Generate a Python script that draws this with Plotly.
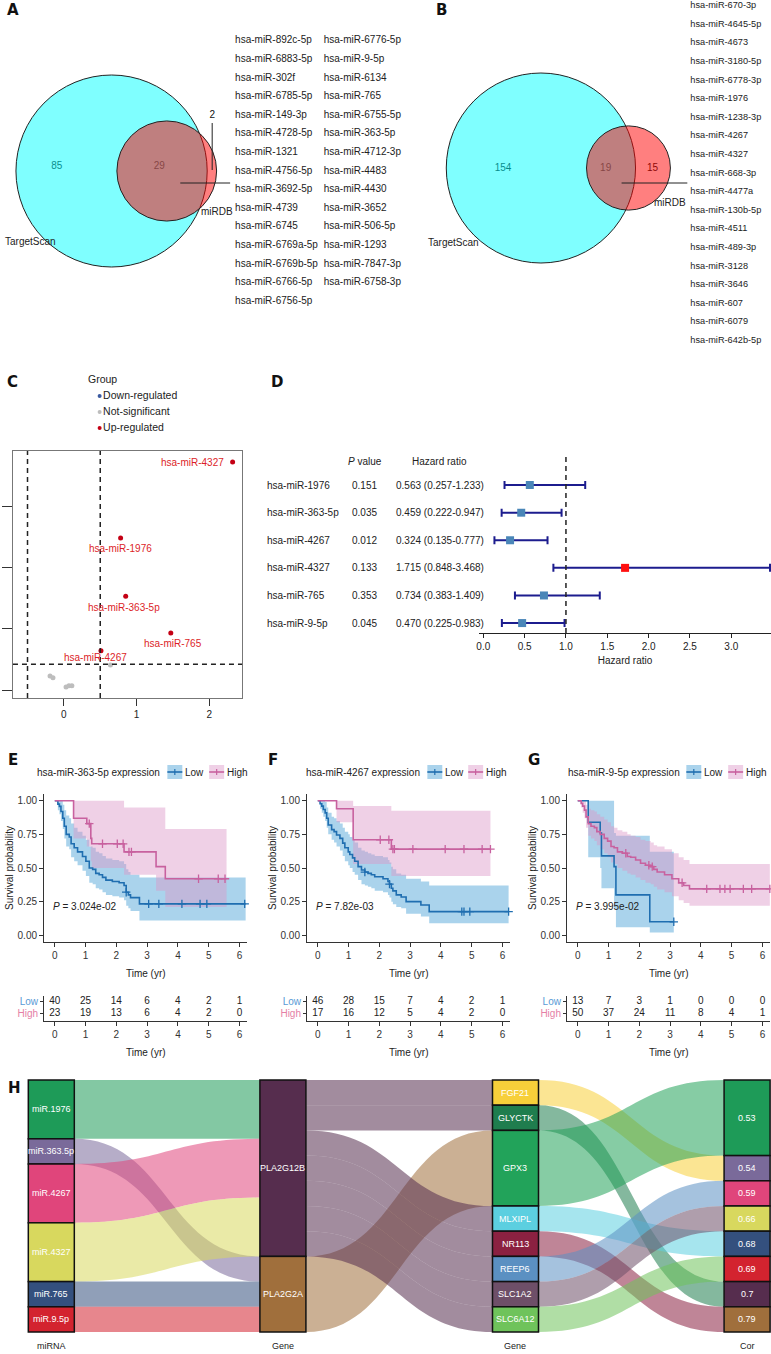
import numpy as np
import plotly.graph_objects as go

W, H = 771, 1354
FONT = "Liberation Sans"
BOLD = "DejaVu Sans"


def px(x):
    return x / W


def py(y):
    return 1 - y / H


# ==============================
# A / B : Venn counts + overlap lists
# ==============================
venn_sets = ["TargetScan", "miRDB"]
venn_a = [85, 29, 2]      # TargetScan only, both, miRDB only
venn_b = [154, 19, 15]

mirs_a_col1 = ["hsa-miR-892c-5p", "hsa-miR-6883-5p", "hsa-miR-302f", "hsa-miR-6785-5p", "hsa-miR-149-3p",
               "hsa-miR-4728-5p", "hsa-miR-1321", "hsa-miR-4756-5p", "hsa-miR-3692-5p", "hsa-miR-4739",
               "hsa-miR-6745", "hsa-miR-6769a-5p", "hsa-miR-6769b-5p", "hsa-miR-6766-5p", "hsa-miR-6756-5p"]
mirs_a_col2 = ["hsa-miR-6776-5p", "hsa-miR-9-5p", "hsa-miR-6134", "hsa-miR-765", "hsa-miR-6755-5p",
               "hsa-miR-363-5p", "hsa-miR-4712-3p", "hsa-miR-4483", "hsa-miR-4430", "hsa-miR-3652",
               "hsa-miR-506-5p", "hsa-miR-1293", "hsa-miR-7847-3p", "hsa-miR-6758-3p"]
mirs_b = ["hsa-miR-670-3p", "hsa-miR-4645-5p", "hsa-miR-4673", "hsa-miR-3180-5p", "hsa-miR-6778-3p",
          "hsa-miR-1976", "hsa-miR-1238-3p", "hsa-miR-4267", "hsa-miR-4327", "hsa-miR-668-3p",
          "hsa-miR-4477a", "hsa-miR-130b-5p", "hsa-miR-4511", "hsa-miR-489-3p", "hsa-miR-3128",
          "hsa-miR-3646", "hsa-miR-607", "hsa-miR-6079", "hsa-miR-642b-5p"]

# ==============================
# C : volcano
# ==============================
group_names = ["Down-regulated", "Not-significant", "Up-regulated"]
up_names = ["hsa-miR-4327", "hsa-miR-1976", "hsa-miR-363-5p", "hsa-miR-765", "hsa-miR-4267"]
up_fc = [2.32, 0.78, 0.85, 1.47, 0.51]
up_y = [4.72, 3.48, 2.53, 1.93, 1.64]
down_names = ["hsa-miR-9-5p"]
down_fc = [-0.75]
down_y = [2.83]
ns_fc = [-0.19, -0.15, 0.03, 0.07, 0.11, 0.64]
ns_y = [1.23, 1.20, 1.05, 1.07, 1.07, 1.41]
fc_cut = 0.5
y_cut = 1.42

# ==============================
# D : forest
# ==============================
forest_names = ["hsa-miR-1976", "hsa-miR-363-5p", "hsa-miR-4267", "hsa-miR-4327", "hsa-miR-765", "hsa-miR-9-5p"]
forest_p = ["0.151", "0.035", "0.012", "0.133", "0.353", "0.045"]
forest_hr = [0.563, 0.459, 0.324, 1.715, 0.734, 0.470]
forest_lo = [0.257, 0.222, 0.135, 0.848, 0.383, 0.225]
forest_hi = [1.233, 0.947, 0.777, 3.468, 1.409, 0.983]

# ==============================
# E / F / G : Kaplan-Meier
# ==============================
years = [0, 1, 2, 3, 4, 5, 6]

e_low_t = [0, .10, .15, .20, .26, .31, .37, .47, .53, .63, .74, .90, 1.01, 1.12, 1.23, 1.33, 1.44, 1.55, 1.66,
           1.87, 2.09, 2.25, 2.32, 2.39, 2.46, 2.75]
e_low_s = [1, .975, .958, .92, .87, .81, .75, .73, .68, .65, .62, .585, .55, .50, .49, .46, .45, .43, .41,
           .40, .39, .37, .32, .30, .28, .233]
e_low_lo = [1, .93, .90, .85, .79, .72, .66, .64, .58, .55, .52, .48, .44, .39, .38, .35, .34, .32, .30,
            .29, .28, .26, .22, .20, .18, .11]
e_low_hi = [1, 1, 1, 1, .97, .93, .89, .87, .83, .80, .77, .74, .71, .66, .65, .62, .61, .59, .57,
            .56, .55, .53, .49, .47, .45, .43]
e_low_cens = [2.32, 3.05, 3.38, 4.13, 4.72, 4.94, 6.17]
e_low_end = 6.2
e_high_t = [0, .61, 1.04, 1.17, 1.20, 2.25, 3.29, 3.59]
e_high_s = [1, .87, .83, .72, .68, .62, .51, .42]
e_high_lo = [1, .72, .66, .55, .50, .45, .33, .21]
e_high_hi = [1, 1, 1, 1, 1, .95, .95, .79]
e_high_cens = [1.12, 1.55, 2.03, 2.22, 2.41, 2.49, 4.67, 5.31, 5.53]
e_high_end = 5.58
e_risk_low = [40, 25, 14, 6, 4, 2, 1]
e_risk_high = [23, 19, 13, 6, 4, 2, 0]

f_low_t = [0, .075, .13, .18, .24, .29, .34, .45, .53, .61, .72, .81, .88, .99, 1.04, 1.13, 1.20, 1.31, 1.42,
           1.53, 1.63, 1.74, 1.85, 2.12, 2.28, 2.33, 2.39, 2.44, 2.55, 2.71, 2.87, 3.35, 3.62]
f_low_s = [1, .978, .96, .935, .91, .87, .82, .785, .77, .745, .72, .685, .65, .62, .60, .575, .55, .51, .485,
           .47, .46, .45, .435, .42, .40, .38, .35, .33, .30, .285, .25, .225, .176]
f_low_lo = [1, .94, .91, .88, .85, .80, .75, .71, .69, .66, .63, .59, .55, .52, .50, .47, .45, .41, .38,
            .37, .36, .35, .33, .32, .30, .28, .25, .23, .21, .20, .16, .14, .09]
f_low_hi = [1, 1, 1, 1, .99, .95, .91, .88, .87, .85, .83, .80, .77, .75, .73, .71, .69, .65, .63,
            .62, .61, .60, .59, .58, .56, .54, .51, .49, .46, .45, .42, .40, .37]
f_low_cens = [1.53, 2.33, 4.68, 4.75, 4.94, 6.2]
f_low_end = 6.2
f_high_t = [0, .61, 1.15, 2.39]
f_high_s = [1, .94, .71, .64]
f_high_lo = [1, .84, .53, .44]
f_high_hi = [1, 1, .96, .925]
f_high_cens = [2.03, 2.31, 2.44, 2.49, 3.09, 4.14, 4.75, 5.34, 5.61]
f_high_end = 5.61
f_risk_low = [46, 28, 15, 7, 4, 2, 1]
f_risk_high = [17, 16, 12, 5, 4, 2, 0]

g_low_t = [0, .34, .73, .77, 1.18, 1.24, 2.34]
g_low_s = [1, .84, .76, .59, .51, .30, .10]
g_low_lo = [1, .58, .50, .35, .20, .06, .02]
g_low_hi = [1, 1, 1, 1, .76, .74, .62]
g_low_cens = [3.12]
g_low_end = 3.12
g_high_t = [0, .11, .16, .22, .27, .34, .43, .54, .62, .73, .86, .97, 1.08, 1.18, 1.29, 1.45, 1.61, 1.72,
            1.88, 2.04, 2.20, 2.37, 2.47, 2.58, 2.82, 3.06, 3.28, 3.44, 3.63]
g_high_s = [1, .98, .96, .93, .88, .83, .81, .80, .77, .75, .72, .70, .66, .65, .62, .61, .585, .58,
            .56, .535, .52, .51, .49, .47, .45, .42, .39, .37, .345]
g_high_lo = [1, .95, .91, .87, .80, .74, .72, .70, .67, .64, .61, .58, .54, .53, .50, .48, .46, .45,
             .43, .41, .39, .38, .36, .34, .32, .29, .26, .24, .22]
g_high_hi = [1, 1, 1, 1, .97, .94, .93, .92, .90, .88, .86, .84, .81, .80, .78, .77, .75, .74,
             .73, .71, .70, .69, .67, .66, .64, .61, .58, .56, .53]
g_high_cens = [1.56, 2.31, 2.42, 3.39, 4.19, 4.62, 4.78, 4.95, 5.38, 5.65, 6.24]
g_high_end = 6.24
g_risk_low = [13, 7, 3, 1, 0, 0, 0]
g_risk_high = [50, 37, 24, 11, 8, 4, 1]

# ==============================
# H : sankey
# ==============================
sankey_nodes = ["miR.1976", "miR.363.5p", "miR.4267", "miR.4327", "miR.765", "miR.9.5p",
                "PLA2G12B", "PLA2G2A",
                "FGF21", "GLYCTK", "GPX3", "MLXIPL", "NR113", "REEP6", "SLC1A2", "SLC6A12",
                "0.53", "0.54", "0.59", "0.66", "0.68", "0.69", "0.7", "0.79"]
sankey_stage = [0] * 6 + [1] * 2 + [2] * 8 + [3] * 8
sankey_titles = ["miRNA", "Gene", "Gene", "Cor"]
link_source = ["miR.1976", "miR.363.5p", "miR.4267", "miR.4327", "miR.765", "miR.9.5p",
               "PLA2G12B", "PLA2G12B", "PLA2G2A", "PLA2G12B", "PLA2G12B", "PLA2G12B", "PLA2G12B", "PLA2G12B",
               "FGF21", "GLYCTK", "GPX3", "MLXIPL", "NR113", "REEP6", "SLC1A2", "SLC6A12"]
link_target = ["PLA2G12B", "PLA2G2A", "PLA2G12B", "PLA2G12B", "PLA2G2A", "PLA2G2A",
               "FGF21", "GLYCTK", "GPX3", "MLXIPL", "NR113", "REEP6", "SLC1A2", "SLC6A12",
               "0.54", "0.7", "0.53", "0.68", "0.79", "0.59", "0.66", "0.69"]
link_value = [7, 3, 7, 7, 3, 3,
              3, 3, 9, 3, 3, 3, 3, 3,
              3, 3, 9, 3, 3, 3, 3, 3]

# colours (style)
node_colors = ["#1e9b58", "#7a6a9a", "#e0457b", "#d8d85e", "#34507e", "#d3232f",
               "#562d4e", "#a06f3c",
               "#f7cf3a", "#1f7d4e", "#22a35a", "#5ccfe0", "#8b2141", "#5b90c2", "#6e4f68", "#6fc35b",
               "#1e9b58", "#7a6a9a", "#e0457b", "#d8d85e", "#34507e", "#d3232f", "#562d4e", "#a06f3c"]
group_colors = ["#3b5aa0", "#bdbdbd", "#c40014"]
LOW_LINE, HIGH_LINE = "#1f6eb0", "#c8619f"
LOW_BAND, HIGH_BAND = "rgba(100,175,220,0.55)", "rgba(220,150,200,0.45)"

fig = go.Figure()
lay = {}
ann = []
shp = []


def axname(n):
    return ("x", "y") if n == 1 else (f"x{n}", f"y{n}")


def axkey(n):
    return ("xaxis", "yaxis") if n == 1 else (f"xaxis{n}", f"yaxis{n}")


def label(x, y, s, size=10, color="#222", xanchor="center", yanchor="middle", family=FONT, **kw):
    ann.append(dict(x=x, y=y, text=s, showarrow=False, xanchor=xanchor, yanchor=yanchor,
                    xref=kw.pop("xref", "paper"), yref=kw.pop("yref", "paper"),
                    font=dict(family=family, size=size, color=color), **kw))


def hline(x0, x1, y, color="#222", width=1):
    shp.append(dict(type="line", xref="paper", yref="paper", x0=px(x0), x1=px(x1), y0=py(y), y1=py(y),
                    line=dict(color=color, width=width)))


# panel letters
for letter, (lx, ly) in zip("ABCDEFGH", [(2, 10), (433, 10), (2, 382), (267, 382),
                                          (3, 760), (264, 760), (525, 760), (3, 1088)]):
    label(px(lx), py(ly), f"<b>{letter}</b>", size=15, color="#111", xanchor="left", family=BOLD)


# ==============================
# Venn diagrams
# ==============================
def lens_area(d, r1, r2):
    if d >= r1 + r2:
        return 0.0
    if d <= abs(r1 - r2):
        return np.pi * min(r1, r2) ** 2
    a1 = r1 ** 2 * np.arccos((d * d + r1 * r1 - r2 * r2) / (2 * d * r1))
    a2 = r2 ** 2 * np.arccos((d * d + r2 * r2 - r1 * r1) / (2 * d * r2))
    a3 = 0.5 * np.sqrt((-d + r1 + r2) * (d + r1 - r2) * (d - r1 + r2) * (d + r1 + r2))
    return a1 + a2 - a3


def venn_layout(counts):
    left, both, right = counts
    r1 = np.sqrt((left + both) / np.pi)
    r2 = np.sqrt((right + both) / np.pi)
    lo, hi = abs(r1 - r2), r1 + r2
    for _ in range(80):
        mid = (lo + hi) / 2
        if lens_area(mid, r1, r2) > both:
            lo = mid
        else:
            hi = mid
    return r1, r2, (lo + hi) / 2


venn_specs = [
    (1, venn_a, (109, 171), 96, (0, 232), (50, 285), [(54, 166), (157, 166), (210, 115)]),
    (2, venn_b, (540, 168), 95, (390, 688), (50, 285), [(502, 168), (605, 168), (652, 168)]),
]
for n, counts, (cx, cy), rpx, (x0, x1), (y0, y1), lab_px in venn_specs:
    r1, r2, d = venn_layout(counts)
    k = rpx / r1
    xa, ya = axname(n)
    xk, yk = axkey(n)
    lay[xk] = dict(domain=[px(x0), px(x1)], range=[(x0 - cx) / k, (x1 - cx) / k], visible=False, anchor=ya)
    lay[yk] = dict(domain=[py(y1), py(y0)], range=[(cy - y1) / k, (cy - y0) / k], visible=False, anchor=xa)
    shp.append(dict(type="circle", xref=xa, yref=ya, x0=-r1, x1=r1, y0=-r1, y1=r1,
                    fillcolor="rgba(0,255,255,0.5)", line=dict(color="#222", width=1)))
    shp.append(dict(type="circle", xref=xa, yref=ya, x0=d - r2, x1=d + r2, y0=-r2, y1=r2,
                    fillcolor="rgba(255,0,0,0.5)", line=dict(color="#222", width=1)))
    fig.add_trace(go.Scatter(x=[(lx - cx) / k for lx, _ in lab_px], y=[(cy - ly) / k for _, ly in lab_px],
                             text=[str(c) for c in counts], mode="text", xaxis=xa, yaxis=ya,
                             textfont=dict(family=FONT, size=10, color="#111"),
                             showlegend=False, hoverinfo="skip", cliponaxis=False))

label(px(0), py(241), venn_sets[0], xanchor="left", size=10)
label(px(215), py(212), venn_sets[1], size=10)
label(px(452), py(242), venn_sets[0], size=10)
label(px(670), py(203), venn_sets[1], size=10)
shp.append(dict(type="line", xref="paper", yref="paper", x0=px(210), x1=px(210), y0=py(123), y1=py(170),
                line=dict(color="#222", width=1)))
hline(178, 228, 183)
hline(621, 687, 183)

# overlap lists
lay["xaxis3"] = dict(domain=[px(233), px(397)], range=[0, 164 / 89], visible=False, anchor="y3")
lay["yaxis3"] = dict(domain=[py(31.7 + 15 * 18.6), py(31.7)], range=[14.5, -0.5], visible=False, anchor="x3")
for col, names in enumerate([mirs_a_col1, mirs_a_col2]):
    fig.add_trace(go.Scatter(x=[col] * len(names), y=list(range(len(names))), text=names, mode="text",
                             textposition="middle right", xaxis="x3", yaxis="y3",
                             textfont=dict(family=FONT, size=10, color="#222"),
                             showlegend=False, hoverinfo="skip", cliponaxis=False))
lay["xaxis4"] = dict(domain=[px(690), 1], range=[0, 1], visible=False, anchor="y4")
lay["yaxis4"] = dict(domain=[py(6 + 18.5 * 18.6), 1], range=[18.5, -6 / 18.6], visible=False, anchor="x4")
fig.add_trace(go.Scatter(x=[0] * len(mirs_b), y=list(range(len(mirs_b))), text=mirs_b, mode="text",
                         textposition="middle right", xaxis="x4", yaxis="y4",
                         textfont=dict(family=FONT, size=9.2, color="#222"),
                         showlegend=False, hoverinfo="skip", cliponaxis=False))

# ==============================
# C: volcano
# ==============================
lay["xaxis5"] = dict(domain=[px(10), px(240)], range=[-0.70, 2.45], anchor="y5", showline=True, mirror=True,
                     linecolor="#777", linewidth=1.2, ticks="outside", ticklen=7, tickcolor="#333",
                     tickvals=[0, 1, 2], showgrid=False, zeroline=False, tickfont=dict(size=10))
lay["yaxis5"] = dict(domain=[py(698), py(451)], range=[0.87, 4.90], anchor="x5", showline=True, mirror=True,
                     linecolor="#777", linewidth=1.2, ticks="outside", ticklen=10, tickcolor="#333",
                     tickvals=[1, 2, 3, 4], showticklabels=False, showgrid=False, zeroline=False)
dash = dict(color="#222", width=1.5, dash="5px,4px")
for xv in (-fc_cut, fc_cut):
    shp.append(dict(type="line", xref="x5", yref="y5 domain", x0=xv, x1=xv, y0=0, y1=1, line=dash))
shp.append(dict(type="line", xref="x5 domain", yref="y5", x0=0, x1=1, y0=y_cut, y1=y_cut, line=dash))

for name, col, xs, ys in zip(group_names, group_colors, [down_fc, ns_fc, up_fc], [down_y, ns_y, up_y]):
    fig.add_trace(go.Scatter(x=xs, y=ys, mode="markers", name=name, xaxis="x5", yaxis="y5",
                             marker=dict(color=col, size=5), showlegend=False))

# group key (legend) for C
lay["xaxis13"] = dict(domain=[px(97), px(220)], range=[0, 1], visible=False, anchor="y13")
lay["yaxis13"] = dict(domain=[py(436), py(388)], range=[2.5, -0.5], visible=False, anchor="x13")
fig.add_trace(go.Scatter(x=[0] * len(group_names), y=list(range(len(group_names))), text=group_names,
                         mode="markers+text", textposition="middle right", xaxis="x13", yaxis="y13",
                         marker=dict(color=group_colors, size=4), cliponaxis=False,
                         textfont=dict(family=FONT, size=10.5, color="#222"), showlegend=False, hoverinfo="skip"))
label(px(83), py(379), "Group", size=10.5, xanchor="left")

label_style = {
    "hsa-miR-4327": dict(xshift=-7, yshift=0, xanchor="right"),
    "hsa-miR-1976": dict(xshift=0, yshift=-10, xanchor="center"),
    "hsa-miR-363-5p": dict(xshift=-2, yshift=-11, xanchor="center"),
    "hsa-miR-765": dict(xshift=2, yshift=-10, xanchor="center"),
    "hsa-miR-4267": dict(xshift=-5, yshift=-7, xanchor="center"),
    "hsa-miR-9-5p": dict(xshift=21, yshift=0, xanchor="left"),
}
for names, xs, ys, col in [(up_names, up_fc, up_y, "#dc1e28"), (down_names, down_fc, down_y, "#3b4a9a")]:
    for nm, xv, yv in zip(names, xs, ys):
        st = label_style[nm]
        label(xv, yv, nm, size=10, color=col, xanchor=st["xanchor"], xref="x5", yref="y5",
              xshift=st["xshift"], yshift=st["yshift"])

# ==============================
# D: forest plot
# ==============================
rows = list(range(len(forest_names)))
lay["xaxis6"] = dict(domain=[px(478), 1], range=[-0.05, 3.48], anchor="y6", showline=True, linecolor="#222",
                     ticks="outside", ticklen=4, tickcolor="#222", tickvals=[0, .5, 1, 1.5, 2, 2.5, 3],
                     tickformat=".1f", showgrid=False, zeroline=False, tickfont=dict(size=10),
                     title=dict(text="Hazard ratio", font=dict(size=10), standoff=5))
lay["yaxis6"] = dict(domain=[py(633), py(455)], range=[5.36, -1.09], anchor="x6", visible=False)
shp.append(dict(type="line", xref="x6", yref="y6 domain", x0=1, x1=1, y0=0, y1=1,
                line=dict(color="#222", width=1.5, dash="5px,4px")))
fig.add_trace(go.Scatter(
    x=forest_hr, y=rows, mode="markers", xaxis="x6", yaxis="y6", showlegend=False,
    marker=dict(symbol="square", size=8, color=["#ff1010" if h > 1 else "#4a86b8" for h in forest_hr]),
    error_x=dict(type="data", symmetric=False,
                 array=[h - r for h, r in zip(forest_hi, forest_hr)],
                 arrayminus=[r - l for r, l in zip(forest_hr, forest_lo)],
                 color="#1c1c8e", thickness=2, width=4)))
label(px(363), -0.87, "<i>P</i> value", yref="y6", size=10)
label(px(438), -0.87, "Hazard ratio", yref="y6", size=10)
for i, nm in enumerate(forest_names):
    label(px(263), i, nm, yref="y6", size=10, xanchor="left")
    label(px(363), i, forest_p[i], yref="y6", size=10)
    label(px(393), i, f"{forest_hr[i]:.3f} ({forest_lo[i]:.3f}-{forest_hi[i]:.3f})", yref="y6", size=10,
          xanchor="left")

# ==============================
# E/F/G: survival curves + risk tables
# ==============================
PX_YEAR = 30.9
km_panels = [
    (7, 10, 52, "hsa-miR-363-5p expression", "3.024e-02", (32, 165, 207),
     (e_low_t, e_low_s, e_low_lo, e_low_hi, e_low_cens, e_low_end),
     (e_high_t, e_high_s, e_high_lo, e_high_hi, e_high_cens, e_high_end), e_risk_low, e_risk_high),
    (8, 11, 316, "hsa-miR-4267 expression", "7.82e-03", (302, 426, 467),
     (f_low_t, f_low_s, f_low_lo, f_low_hi, f_low_cens, f_low_end),
     (f_high_t, f_high_s, f_high_lo, f_high_hi, f_high_cens, f_high_end), f_risk_low, f_risk_high),
    (9, 12, 577, "hsa-miR-9-5p expression", "3.995e-02", (565, 686, 728),
     (g_low_t, g_low_s, g_low_lo, g_low_hi, g_low_cens, g_low_end),
     (g_high_t, g_high_s, g_high_lo, g_high_hi, g_high_cens, g_high_end), g_risk_low, g_risk_high),
]
xr = [-0.35, 6.26]
axis_common = dict(showline=True, linecolor="#333", linewidth=1, ticks="outside", ticklen=4, tickcolor="#333",
                   showgrid=False, zeroline=False, tickfont=dict(size=10, color="#333"))

for n, nr, t0, title, pval, (tx, b1, b2), low, high, risk_low, risk_high in km_panels:
    dom = [px(t0 + xr[0] * PX_YEAR), min(1, px(t0 + xr[1] * PX_YEAR))]
    xa, ya = f"x{n}", f"y{n}"
    lay[f"xaxis{n}"] = dict(domain=dom, range=xr, anchor=ya, tickvals=years,
                            title=dict(text="Time (yr)", font=dict(size=10), standoff=9), **axis_common)
    lay[f"yaxis{n}"] = dict(domain=[py(942), py(794)], range=[-0.05, 1.05], anchor=xa,
                            tickvals=[0, .25, .5, .75, 1], tickformat=".2f",
                            title=dict(text="Survival probability", font=dict(size=10), standoff=2), **axis_common)
    groups = [(low, LOW_LINE, LOW_BAND), (high, HIGH_LINE, HIGH_BAND)]
    for (t, s, lo, hi, cens, t_end), lc, bc in groups:
        tt = list(t) + [t_end]
        fig.add_trace(go.Scatter(x=tt, y=list(lo) + [lo[-1]], xaxis=xa, yaxis=ya, mode="lines",
                                 line=dict(width=0, shape="hv"), showlegend=False, hoverinfo="skip"))
        fig.add_trace(go.Scatter(x=tt, y=list(hi) + [hi[-1]], xaxis=xa, yaxis=ya, mode="lines",
                                 line=dict(width=0, shape="hv"), fill="tonexty", fillcolor=bc,
                                 showlegend=False, hoverinfo="skip"))
    for (t, s, lo, hi, cens, t_end), lc, bc in groups:
        fig.add_trace(go.Scatter(x=list(t) + [t_end], y=list(s) + [s[-1]], xaxis=xa, yaxis=ya, mode="lines",
                                 line=dict(color=lc, width=1.6, shape="hv"), showlegend=False))
        cy = [s[np.searchsorted(t, c, side="right") - 1] for c in cens]
        fig.add_trace(go.Scatter(x=cens, y=cy, xaxis=xa, yaxis=ya, mode="markers", showlegend=False,
                                 cliponaxis=False,
                                 marker=dict(symbol="cross-thin", size=6, line=dict(color=lc, width=1.3))))
    label(px(t0 - 4), 0.215, f"<i>P</i> = {pval}", xref="paper", yref=ya, size=10, xanchor="left")

    # legend (title + keys)
    label(px(tx), py(772), title, size=10, xanchor="left")
    for bx, lc, bc, txt in [(b1, LOW_LINE, LOW_BAND, "Low"), (b2, HIGH_LINE, HIGH_BAND, "High")]:
        shp.append(dict(type="rect", xref="paper", yref="paper", x0=px(bx), x1=px(bx + 15), y0=py(779),
                        y1=py(765), fillcolor=bc, line=dict(width=0)))
        hline(bx, bx + 15, 772, color=lc, width=1.6)
        shp.append(dict(type="line", xref="paper", yref="paper", x0=px(bx + 7.5), x1=px(bx + 7.5),
                        y0=py(775), y1=py(769), line=dict(color=lc, width=1.2)))
        label(px(bx + 16), py(772), txt, size=10, xanchor="left")

    # risk table
    xra, yra = f"x{nr}", f"y{nr}"
    lay[f"xaxis{nr}"] = dict(domain=dom, range=xr, anchor=yra, tickvals=years,
                             title=dict(text="Time (yr)", font=dict(size=10), standoff=9), **axis_common)
    lay[f"yaxis{nr}"] = dict(domain=[py(1021), py(996)], range=[-0.6, 1.5], anchor=xra, tickvals=[1, 0],
                             ticktext=["<span style='color:#5a9ad6'>Low</span>",
                                       "<span style='color:#e57fa6'>High</span>"],
                             **{**axis_common, "ticklen": 3, "tickfont": dict(size=10)})
    for row, vals in [(1, risk_low), (0, risk_high)]:
        fig.add_trace(go.Scatter(x=years, y=[row] * len(years), text=[str(v) for v in vals], mode="text",
                                 xaxis=xra, yaxis=yra, textfont=dict(family=FONT, size=10, color="#222"),
                                 showlegend=False, hoverinfo="skip", cliponaxis=False))

# ==============================
# H: sankey
# ==============================
idx = {nm: i for i, nm in enumerate(sankey_nodes)}
stage_px = [48.5, 281, 514.5, 747]
SK_TOP, SK_BOT = 1080, 1332
node_val = [max(sum(v for s, v in zip(link_source, link_value) if s == nm),
                sum(v for t, v in zip(link_target, link_value) if t == nm)) for nm in sankey_nodes]
node_x, node_y = [], []
cum = {}
for nm, st, v in zip(sankey_nodes, sankey_stage, node_val):
    tot = sum(val for s2, val in zip(sankey_stage, node_val) if s2 == st)
    c = cum.get(st, 0)
    frac = (c + v / 2) / tot
    cum[st] = c + v
    node_x.append(px(stage_px[st]))
    node_y.append(frac)
    label(px(stage_px[st]), py(SK_TOP + frac * (SK_BOT - SK_TOP)), nm, size=9, color="white")


def rgba(hexcol, a):
    h = hexcol.lstrip("#")
    return f"rgba({int(h[0:2], 16)},{int(h[2:4], 16)},{int(h[4:6], 16)},{a})"


fig.add_trace(go.Sankey(
    domain=dict(x=[0, 1], y=[py(SK_BOT), py(SK_TOP)]),
    arrangement="fixed",
    node=dict(label=sankey_nodes, color=node_colors, pad=0, thickness=46, x=node_x, y=node_y,
              line=dict(color="#111", width=1.5)),
    link=dict(source=[idx[s] for s in link_source], target=[idx[t] for t in link_target], value=link_value,
              color=[rgba(node_colors[idx[s]], 0.55) for s in link_source], line=dict(width=0)),
    textfont=dict(size=1, color="rgba(0,0,0,0)"),
))
for st, ttl in enumerate(sankey_titles):
    label(px(stage_px[st]), py(1346), ttl, size=9)

fig.update_layout(
    width=W, height=H, margin=dict(l=0, r=0, t=0, b=0),
    paper_bgcolor="white", plot_bgcolor="white",
    font=dict(family=FONT, size=10, color="#222"),
    showlegend=False,
    annotations=ann, shapes=shp,
    **lay,
)

# the page body has a default 8px margin; drop it so the figure sits at the window's corner
fig.write_html("out.html", config={"displayModeBar": False},
               post_script="document.body.style.margin='0';document.body.style.padding='0';")
